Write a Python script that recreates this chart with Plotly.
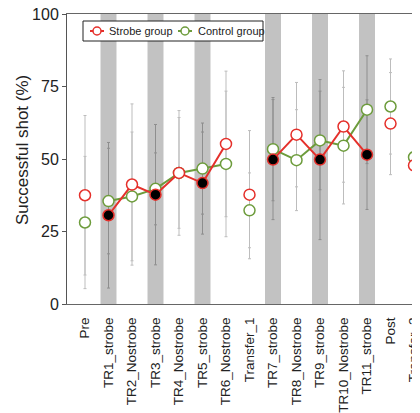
import plotly.graph_objects as go

categories = ["Pre", "TR1_strobe", "TR2_Nostrobe", "TR3_strobe", "TR4_Nostrobe",
              "TR5_strobe", "TR6_Nostrobe", "Transfer_1", "TR7_strobe", "TR8_Nostrobe",
              "TR9_strobe", "TR10_Nostrobe", "TR11_strobe", "Post", "Transfer_2"]

strobe_mean = [37.5, 30.6, 41.2, 37.7, 45.2, 41.7, 55.2, 37.7, 49.8, 58.4, 49.8, 61.2, 51.5, 62.2, 47.8]
strobe_sd = [27.5, 25.1, 27.8, 24.2, 21.5, 17.6, 25.1, 22.1, 20.7, 18.0, 27.6, 19.2, 18.9, 17.6, 11.4]
control_mean = [28.1, 35.5, 37.1, 39.7, 45.2, 46.7, 48.3, 32.3, 53.4, 49.6, 56.4, 54.6, 67.0, 68.1, 50.6]
control_sd = [22.8, 18.2, 22.2, 12.4, 19.1, 15.7, 25.1, 12.9, 17.8, 17.4, 17.0, 20.1, 18.6, 16.4, 15.3]

# Connected runs of training blocks (lines are drawn only within runs)
runs = [["TR1_strobe", "TR2_Nostrobe", "TR3_strobe", "TR4_Nostrobe", "TR5_strobe", "TR6_Nostrobe"],
        ["TR7_strobe", "TR8_Nostrobe", "TR9_strobe", "TR10_Nostrobe", "TR11_strobe"]]
legend_names = ["Strobe group", "Control group"]
y_title = "Successful shot (%)"

RED = "#e5302b"
GREEN = "#6d9c3c"
idx = list(range(len(categories)))
is_strobe = ["_strobe" in c for c in categories]

# page body has an 8px margin; compensate so the plot lands where the reference has it
OFF = 8
W, H = 420, 413
ML, MT = 67 - OFF, 14 - OFF
MR = OFF
MB = H - (304 - OFF)
PW, PH = W - ML - MR, H - MT - MB


def px2paper(px, py):
    # px, py are page pixel coordinates (as seen in the reference)
    fx, fy = px - OFF, py - OFF
    return (fx - ML) / PW, (H - MB - fy) / PH


def run_id(c):
    for k, r in enumerate(runs):
        if c in r:
            return k
    return None


def with_gaps(values):
    xs, ys, keep = [], [], []
    prev = "start"
    for i, c in enumerate(categories):
        rid = run_id(c)
        if prev != "start" and (rid is None or rid != prev):
            xs.append(None); ys.append(None); keep.append(None)
        xs.append(i); ys.append(values[i]); keep.append(i)
        prev = rid if rid is not None else ("solo", i)
    return xs, ys, keep


fig = go.Figure()

# gray bands for strobe trials
for i, s in zip(idx, is_strobe):
    if s:
        fig.add_shape(type="rect", xref="x", yref="y", x0=i - 0.34, x1=i + 0.34, y0=0, y1=100,
                      fillcolor="#c2c2c2", line_width=0, layer="below")

# error bars (drawn first, under all markers)
for mean, sd in [(control_mean, control_sd), (strobe_mean, strobe_sd)]:
    for band, col in [(False, "#bdbdbd"), (True, "#8e8e8e")]:
        sel = [i for i in idx if is_strobe[i] == band]
        fig.add_trace(go.Scatter(
            x=sel, y=[mean[i] for i in sel], mode="markers",
            marker=dict(size=1, opacity=0),
            error_y=dict(type="data", array=[sd[i] for i in sel], color=col,
                         thickness=1, width=1.5),
            showlegend=False, hoverinfo="skip"))

# group traces
for name, mean, col, fill_strobe in [("Control group", control_mean, GREEN, False),
                                      ("Strobe group", strobe_mean, RED, True)]:
    xs, ys, keep = with_gaps(mean)
    fills = ["white" if k is None else ("black" if (fill_strobe and is_strobe[k]) else "white")
             for k in keep]
    fig.add_trace(go.Scatter(
        x=xs, y=ys, name=name, mode="lines+markers", connectgaps=False,
        line=dict(color=col, width=2),
        marker=dict(size=11, color=fills, line=dict(color=col, width=1.5)),
        showlegend=False,
    ))

# hand-made legend box (compact, like the reference)
x0, y0 = px2paper(83, 21)
x1, y1 = px2paper(263, 41)
fig.add_shape(type="rect", xref="paper", yref="paper", x0=x0, x1=x1, y0=y1, y1=y0,
              fillcolor="white", line=dict(color="#222", width=1), layer="above")
for name, col, lx0, tx in [(legend_names[0], RED, 90, 107), (legend_names[1], GREEN, 178, 196)]:
    ax0, ay = px2paper(lx0, 31)
    ax1, _ = px2paper(lx0 + 14, 31)
    acx, _ = px2paper(lx0 + 7, 31)
    fig.add_shape(type="line", xref="paper", yref="paper", x0=ax0, x1=ax1, y0=ay, y1=ay,
                  line=dict(color=col, width=2), layer="above")
    fig.add_shape(type="circle", xref="paper", yref="paper", xsizemode="pixel", ysizemode="pixel",
                  xanchor=acx, yanchor=ay, x0=-4, x1=4, y0=-4, y1=4,
                  fillcolor="white", line=dict(color=col, width=1.5), layer="above")
    ttx, _ = px2paper(tx, 31)
    fig.add_annotation(text=name, xref="paper", yref="paper", x=ttx, y=ay, xanchor="left",
                       yanchor="middle", showarrow=False, font=dict(size=11, color="#222"))

# y-axis title as an annotation (placed like the reference)
tx_, ty_ = px2paper(22, 150)
fig.add_annotation(text=y_title, xref="paper", yref="paper", x=tx_, y=ty_, textangle=-90,
                   xanchor="center", yanchor="middle", showarrow=False,
                   font=dict(size=17, color="#222"))

fig.update_layout(
    width=W, height=H,
    margin=dict(l=ML, r=MR, t=MT, b=MB, pad=0),
    paper_bgcolor="white", plot_bgcolor="white",
    font=dict(family="Liberation Sans, Arial, sans-serif", color="#222"),
    showlegend=False,
)
fig.update_xaxes(
    range=[-0.766, 14.255], tickmode="array", tickvals=idx, ticktext=categories,
    tickangle=-90, tickfont=dict(size=13.5, color="#222"), automargin=False,
    ticklabeloverflow="allow",
    showgrid=False, zeroline=False, showline=True, linecolor="#666", linewidth=1,
    mirror=True, ticks="outside", ticklen=7, tickcolor="rgba(0,0,0,0)",
)
fig.update_yaxes(
    range=[0, 100], tickvals=[0, 25, 50, 75, 100], tickfont=dict(size=16, color="#222"),
    automargin=False, ticklabeloverflow="allow",
    showgrid=False, zeroline=False, showline=True, linecolor="#555", linewidth=1,
    ticks="outside", ticklen=4, tickcolor="#555",
)

fig.write_html("out.html")
